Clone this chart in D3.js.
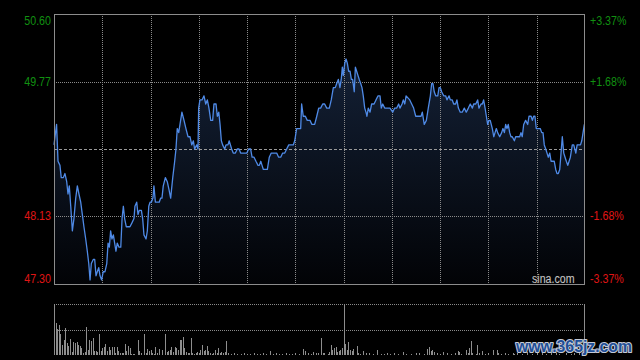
<!DOCTYPE html>
<html>
<head>
<meta charset="utf-8">
<script src="https://cdn.jsdelivr.net/npm/d3@7"></script>
<style>
  html, body { margin: 0; background: #000; }
  svg { display: block; }
</style>
</head>
<body>
<svg id="chart" width="640" height="360"></svg>
<script>
// minutes since open and traded price at that minute
const minutes = [
  0, 1.6, 2.5, 3.7, 4.5, 5.8, 6.8, 7.9, 8.7, 9.5,
  10.4, 11.4, 12.4, 13.5, 14.5, 15.5, 16.6, 17.6, 18.6, 19.7,
  20.7, 21.6, 22.4, 23.2, 24.4, 25.3, 26.1, 26.9, 27.8, 28.6,
  29.6, 30.6, 31.7, 32.8, 33.6, 34.4, 35.2, 36.0, 36.9, 37.7,
  38.5, 39.3, 40.4, 41.5, 42.3, 43.1, 43.9, 44.9, 46.0, 47.2,
  48.5, 49.7, 50.3, 51.4, 52.2, 53.0, 54.3, 55.1, 55.9, 57.2,
  58.0, 58.9, 59.7, 60.5, 61.5, 62.1, 63.0, 64.2, 65.4, 66.3,
  67.1, 67.9, 69.2, 70.4, 71.5, 72.5, 73.8, 75.0, 75.8, 76.6,
  77.5, 78.3, 79.5, 80.8, 82.0, 83.3, 84.5, 85.6, 86.6, 87.4,
  88.7, 89.5, 89.9, 90.7, 92.0, 93.2, 94.3, 95.3, 96.3, 97.4,
  98.6, 99.4, 100.7, 101.5, 102.4, 103.2, 104.0, 104.8, 106.1, 106.9,
  108.1, 108.9, 110.4, 111.4, 112.7, 113.9, 115.0, 116.0, 117.6, 119.8,
  121.0, 122.2, 123.1, 124.3, 125.5, 126.8, 127.6, 128.5, 129.3, 130.1,
  132.6, 133.8, 135.0, 138.4, 139.6, 140.9, 142.1, 143.4, 144.6, 145.9,
  148.7, 149.6, 150.8, 153.3, 153.9, 154.9, 156.2, 157.4, 159.1, 160.3,
  162.0, 163.3, 164.5, 165.7, 167.0, 168.2, 169.5, 171.1, 172.3, 173.6,
  174.8, 175.7, 176.7, 177.7, 178.5, 179.2, 179.8, 180.7, 181.5, 182.3,
  183.1, 184.0, 184.8, 185.6, 186.6, 187.3, 188.1, 188.9, 189.7, 190.6,
  191.4, 192.2, 193.1, 193.9, 194.5, 195.3, 196.4, 197.4, 198.9, 200.1,
  201.4, 202.6, 203.4, 204.3, 205.5, 208.8, 210.5, 211.7, 213.0, 214.2,
  215.0, 216.3, 217.1, 218.0, 218.8, 221.1, 222.3, 223.5, 224.8, 225.6,
  228.1, 228.9, 230.1, 231.4, 232.6, 233.9, 234.7, 235.5, 236.3, 237.2,
  238.5, 239.3, 240.1, 240.9, 242.2, 243.4, 244.2, 245.5, 246.3, 247.5,
  248.4, 249.6, 250.4, 251.3, 252.5, 253.7, 255.0, 256.2, 257.5, 258.7,
  260.0, 260.8, 262.1, 263.3, 264.1, 265.4, 266.2, 267.0, 267.9, 268.7,
  269.5, 270.3, 271.1, 272.4, 273.3, 274.1, 274.9, 275.7, 277.0, 278.2,
  279.0, 279.9, 280.7, 281.5, 282.3, 283.2, 284.0, 284.8, 286.1, 286.9,
  288.2, 289.4, 290.2, 291.0, 291.9, 293.1, 294.4, 295.2, 296.5, 297.3,
  298.1, 298.9, 299.7, 302.2, 303.1, 303.9, 304.7, 305.6, 306.4, 307.2,
  308.1, 308.9, 310.9, 311.8, 312.6, 313.4, 314.3, 315.1, 315.9, 316.8,
  317.6, 318.4, 319.3, 320.1, 320.9, 322.1, 323.0, 324.3, 325.1, 326.3,
  327.2, 328.0, 328.8, 329.6
];
const prices = [
  49.00, 49.25, 48.80, 48.75, 48.60, 48.60, 48.65, 48.55, 48.40, 48.50,
  48.25, 47.95, 48.10, 48.35, 48.50, 48.40, 48.30, 48.15, 48.00, 47.85,
  47.70, 47.55, 47.35, 47.55, 47.60, 47.60, 47.40, 47.45, 47.50, 47.40,
  47.35, 47.45, 47.45, 47.55, 47.80, 47.75, 47.95, 47.85, 47.90, 47.80,
  47.70, 47.80, 47.75, 47.75, 48.10, 48.25, 48.10, 48.00, 48.00, 48.00,
  48.05, 48.10, 48.25, 48.30, 48.15, 48.20, 48.20, 48.10, 47.90, 47.85,
  47.95, 48.25, 48.30, 48.30, 48.35, 48.50, 48.30, 48.30, 48.30, 48.35,
  48.35, 48.50, 48.60, 48.55, 48.45, 48.35, 48.60, 48.80, 48.95, 49.20,
  49.15, 49.25, 49.40, 49.30, 49.20, 49.10, 49.10, 49.00, 49.05, 48.95,
  49.00, 48.95, 49.45, 49.55, 49.55, 49.60, 49.50, 49.55, 49.45, 49.30,
  49.30, 49.50, 49.50, 49.35, 49.40, 49.25, 49.05, 49.00, 48.95, 49.00,
  49.00, 49.05, 48.95, 48.90, 48.90, 48.95, 48.95, 48.90, 48.90, 48.90,
  48.95, 48.95, 48.85, 48.85, 48.80, 48.75, 48.75, 48.80, 48.75, 48.70,
  48.70, 48.85, 48.90, 48.90, 48.85, 48.85, 48.90, 48.90, 48.95, 49.00,
  49.00, 49.05, 49.20, 49.20, 49.50, 49.35, 49.35, 49.30, 49.30, 49.25,
  49.25, 49.35, 49.45, 49.45, 49.50, 49.50, 49.45, 49.45, 49.55, 49.70,
  49.70, 49.75, 49.80, 49.70, 49.80, 49.95, 49.85, 50.00, 50.05, 50.00,
  49.90, 49.90, 49.80, 49.80, 49.65, 49.95, 49.90, 49.85, 49.80, 49.75,
  49.70, 49.60, 49.45, 49.40, 49.35, 49.45, 49.40, 49.50, 49.50, 49.55,
  49.60, 49.60, 49.45, 49.50, 49.45, 49.45, 49.40, 49.45, 49.45, 49.50,
  49.45, 49.50, 49.55, 49.50, 49.60, 49.55, 49.50, 49.45, 49.35, 49.35,
  49.35, 49.40, 49.25, 49.30, 49.45, 49.60, 49.75, 49.75, 49.65, 49.60,
  49.60, 49.70, 49.70, 49.65, 49.60, 49.60, 49.55, 49.60, 49.55, 49.55,
  49.50, 49.50, 49.55, 49.45, 49.40, 49.40, 49.45, 49.40, 49.45, 49.50,
  49.45, 49.50, 49.50, 49.55, 49.45, 49.50, 49.50, 49.55, 49.45, 49.35,
  49.25, 49.30, 49.30, 49.20, 49.10, 49.15, 49.20, 49.15, 49.10, 49.15,
  49.20, 49.15, 49.25, 49.20, 49.25, 49.15, 49.10, 49.10, 49.05, 49.10,
  49.10, 49.10, 49.15, 49.10, 49.25, 49.30, 49.25, 49.35, 49.35, 49.30,
  49.35, 49.35, 49.20, 49.20, 49.15, 49.15, 49.00, 48.95, 48.90, 48.85,
  48.90, 48.80, 48.80, 48.70, 48.65, 48.65, 48.70, 48.90, 49.10, 48.90,
  48.85, 48.80, 48.75, 48.80, 48.85, 49.00, 49.00, 48.90, 49.00, 49.00,
  49.00, 49.05, 49.15, 49.25
];

// volume bars: minute and size
const volMinutes = [
  1, 2, 3, 4, 5, 6, 7, 8, 9, 10, 11, 12, 13, 14, 15, 16, 17, 18, 19, 20,
  21, 22, 23, 24, 25, 26, 27, 28, 29, 30, 31, 32, 33, 34, 35, 36, 37, 38, 39, 40,
  41, 42, 43, 44, 45, 46, 47, 48, 49, 50, 52, 53, 54, 56, 57, 58, 59, 60, 61, 62,
  63, 64, 65, 67, 69, 70, 71, 72, 73, 74, 75, 76, 77, 78, 79, 80, 81, 82, 83, 84,
  85, 86, 87, 88, 89, 90, 91, 92, 93, 94, 95, 96, 97, 98, 99, 100, 101, 102, 103, 104,
  105, 106, 107, 108, 110, 112, 114, 116, 118, 120, 122, 124, 126, 128, 130, 132, 134, 136, 138, 140,
  142, 144, 146, 148, 150, 152, 155, 156, 158, 160, 161, 163, 164, 166, 167, 168, 170, 171, 172, 173,
  174, 175, 176, 177, 178, 179, 181, 182, 183, 184, 185, 186, 188, 189, 190, 192, 194, 196, 198, 201,
  203, 205, 207, 209, 211, 214, 217, 219, 222, 225, 227, 230, 232, 233, 234, 235, 236, 238, 240, 242,
  244, 247, 249, 251, 252, 253, 256, 257, 258, 259, 260, 262, 263, 264, 266, 268, 270, 273, 275, 276,
  278, 280, 282, 285, 286, 288, 291, 294, 297, 300, 303, 306, 309, 312, 314, 318, 321, 323, 326, 329
];
const volumes = [
  32, 26, 30, 21, 10, 15, 27, 12, 9, 16, 3, 13, 12, 13, 10, 9, 7, 2, 3, 28,
  5, 15, 14, 17, 4, 4, 3, 21, 4, 7, 8, 11, 4, 8, 5, 8, 8, 2, 8, 4,
  2, 2, 2, 11, 4, 9, 7, 1, 1, 1, 15, 4, 2, 21, 2, 6, 4, 5, 2, 1,
  8, 2, 6, 5, 21, 3, 4, 5, 8, 3, 8, 7, 5, 15, 15, 18, 7, 3, 2, 2,
  17, 2, 1, 2, 3, 2, 5, 10, 4, 5, 9, 4, 2, 1, 2, 5, 2, 7, 2, 3,
  2, 3, 14, 2, 1, 2, 1, 1, 2, 1, 1, 2, 1, 1, 2, 1, 4, 1, 2, 1,
  1, 2, 1, 1, 2, 1, 6, 4, 2, 1, 3, 2, 2, 17, 2, 2, 1, 3, 10, 5,
  7, 8, 3, 4, 5, 7, 11, 5, 13, 5, 4, 6, 9, 2, 1, 4, 2, 2, 1, 5,
  1, 1, 2, 1, 2, 1, 3, 1, 1, 2, 2, 1, 6, 8, 4, 5, 3, 2, 1, 3,
  2, 1, 2, 4, 3, 1, 5, 2, 7, 14, 2, 1, 10, 2, 4, 1, 2, 5, 5, 2,
  1, 2, 1, 2, 1, 2, 1, 3, 1, 2, 2, 1, 3, 2, 1, 2, 1, 2, 3, 2
];

const priceTicks = [50.60, 49.77, 48.13, 47.30];
const pctTicks = ["+3.37%", "+1.68%", "-1.68%", "-3.37%"];
const prevClose = 48.95;
const timeGrid = [30, 60, 90, 120, 150, 180, 210, 240, 270, 300];
const breakMinute = 180;

const plot = { left: 54, right: 585, top: 14, bottom: 284 };
const vol = { top: 304, bottom: 355 };
const font = "'Liberation Sans', Arial, sans-serif";

const svg = d3.select("#chart");

const x = d3.scaleLinear().domain([0, 330]).range([plot.left, plot.right]);
const y = d3.scaleLinear().domain([47.30, 50.60]).range([plot.bottom, plot.top]);
const yVol = d3.scaleLinear().domain([0, 51]).range([vol.bottom, vol.top]);

const px = v => Math.round(v) + 0.5;

// gradient under the price line
const grad = svg.append("defs").append("linearGradient")
  .attr("id", "fade")
  .attr("gradientUnits", "userSpaceOnUse")
  .attr("x1", 0).attr("x2", 0)
  .attr("y1", plot.top).attr("y2", plot.bottom);
grad.append("stop").attr("offset", 0).attr("stop-color", "#17263f");
grad.append("stop").attr("offset", 1).attr("stop-color", "#020306");

const n = Math.min(minutes.length, prices.length);
const series = d3.range(n).map(i => ({ m: minutes[i], p: prices[i] }));

svg.append("path")
  .datum(series)
  .attr("fill", "url(#fade)")
  .attr("d", d3.area().x(d => x(d.m)).y0(plot.bottom).y1(d => y(d.p)));

// grid
const grid = svg.append("g")
  .attr("stroke", "#8a8a8a")
  .attr("stroke-dasharray", "1,1")
  .attr("shape-rendering", "crispEdges");

grid.selectAll(".vgrid")
  .data(timeGrid)
  .enter()
  .append("line")
  .attr("x1", d => px(x(d))).attr("x2", d => px(x(d)))
  .attr("y1", plot.top).attr("y2", plot.bottom);

grid.selectAll(".hgrid")
  .data([priceTicks[1], priceTicks[2]])
  .enter()
  .append("line")
  .attr("x1", plot.left).attr("x2", plot.right)
  .attr("y1", d => px(y(d))).attr("y2", d => px(y(d)));

svg.append("line")
  .attr("x1", plot.left).attr("x2", plot.right)
  .attr("y1", px(y(prevClose))).attr("y2", px(y(prevClose)))
  .attr("stroke", "#9a9a9a")
  .attr("stroke-dasharray", "3,2")
  .attr("shape-rendering", "crispEdges");

// price line
svg.append("path")
  .datum(series)
  .attr("fill", "none")
  .attr("stroke", "#4f8ae6")
  .attr("stroke-width", 1.3)
  .attr("stroke-linejoin", "round")
  .attr("d", d3.line().x(d => x(d.m)).y(d => y(d.p)));

// frame
svg.append("rect")
  .attr("x", plot.left + 0.5).attr("y", plot.top + 0.5)
  .attr("width", plot.right - plot.left - 1).attr("height", plot.bottom - plot.top)
  .attr("fill", "none")
  .attr("stroke", "#8c8c8c")
  .attr("shape-rendering", "crispEdges");

// labels, squeezed like the original
function squeezed(sel, ratio) {
  sel.each(function () {
    const w = this.getComputedTextLength();
    d3.select(this).attr("textLength", w * ratio).attr("lengthAdjust", "spacingAndGlyphs");
  });
}
const labelShift = [11, 4, 4, -1.5];
const labelColor = ["#119111", "#119111", "#e01515", "#e01515"];

svg.append("g").selectAll("text")
  .data(priceTicks)
  .enter()
  .append("text")
  .attr("x", 51)
  .attr("y", (d, i) => y(d) + labelShift[i])
  .attr("text-anchor", "end")
  .attr("font-family", font)
  .attr("font-size", 13.5)
  .attr("fill", (d, i) => labelColor[i])
  .text(d => d.toFixed(2))
  .call(squeezed, 0.79);

svg.append("g").selectAll("text")
  .data(pctTicks)
  .enter()
  .append("text")
  .attr("x", 590)
  .attr("y", (d, i) => y(priceTicks[i]) + labelShift[i])
  .attr("font-family", font)
  .attr("font-size", 13.5)
  .attr("fill", (d, i) => labelColor[i])
  .text(d => d)
  .call(squeezed, 0.79);

svg.append("text")
  .attr("x", 532).attr("y", 282.5)
  .attr("font-family", font)
  .attr("font-size", 12.5)
  .attr("fill", "#c4c4c4")
  .attr("stroke", "#222")
  .attr("stroke-width", 0.6)
  .attr("paint-order", "stroke")
  .text("sina.com")
  .call(squeezed, 0.85);

// volume panel
const volGrid = svg.append("g")
  .attr("stroke", "#8a8a8a")
  .attr("stroke-dasharray", "1,1")
  .attr("shape-rendering", "crispEdges");
volGrid.selectAll("line")
  .data([51, 25.5])
  .enter()
  .append("line")
  .attr("x1", plot.left).attr("x2", plot.right)
  .attr("y1", d => px(yVol(d))).attr("y2", d => px(yVol(d)));

svg.append("g")
  .selectAll("line")
  .data([0, breakMinute, 330])
  .enter()
  .append("line")
  .attr("x1", d => px(Math.min(x(d), plot.right - 1))).attr("x2", d => px(Math.min(x(d), plot.right - 1)))
  .attr("y1", vol.top).attr("y2", vol.bottom)
  .attr("stroke", "#8c8c8c")
  .attr("shape-rendering", "crispEdges");

const vn = Math.min(volMinutes.length, volumes.length);
svg.append("g")
  .selectAll("rect")
  .data(d3.range(vn))
  .enter()
  .append("rect")
  .attr("x", i => Math.round(x(volMinutes[i])))
  .attr("y", i => yVol(volumes[i]))
  .attr("width", 1)
  .attr("height", i => vol.bottom - yVol(volumes[i]))
  .attr("fill", "#8e8e8e")
  .attr("shape-rendering", "crispEdges");

// watermark
svg.append("text")
  .attr("x", 516).attr("y", 352)
  .attr("font-family", font)
  .attr("font-size", 17)
  .attr("font-weight", "bold")
  .attr("fill", "#1f4f98")
  .attr("stroke", "#c5cad6")
  .attr("stroke-width", 2.2)
  .attr("stroke-linejoin", "round")
  .attr("paint-order", "stroke")
  .text("www.365jz.com")
  .attr("textLength", 116)
  .attr("lengthAdjust", "spacingAndGlyphs");
</script>
</body>
</html>
